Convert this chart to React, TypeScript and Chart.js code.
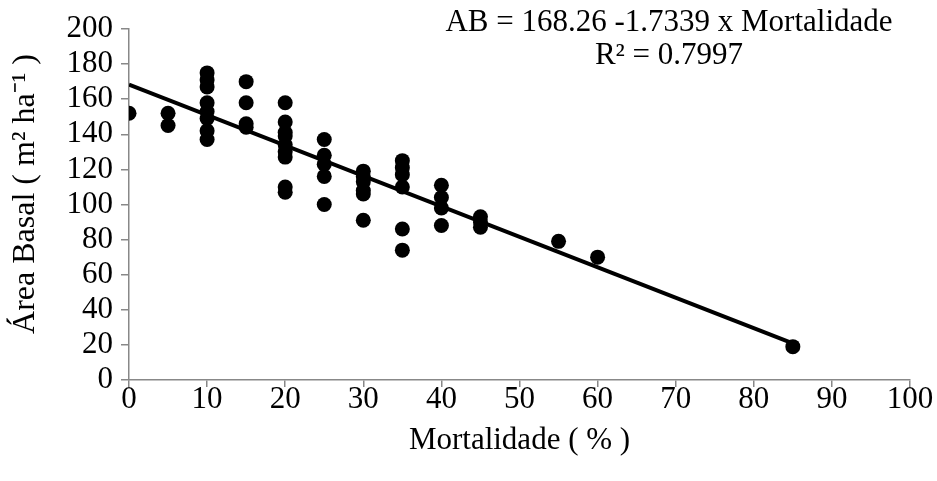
import { useEffect, useRef } from "react";
import { Chart, registerables } from "chart.js";

Chart.register(...registerables);

// Observed data (Mortalidade %, Área Basal m² ha⁻¹)
const mortalidade = [
  0,
  5, 5,
  10, 10, 10, 10, 10, 10, 10, 10,
  15, 15, 15, 15,
  20, 20, 20, 20, 20, 20, 20, 20, 20,
  25, 25, 25, 25, 25,
  30, 30, 30, 30, 30, 30,
  35, 35, 35, 35, 35, 35,
  40, 40, 40, 40,
  45, 45, 45,
  55,
  60,
  85,
];
const areaBasal = [
  152,
  152, 145,
  175, 171, 167, 158, 153, 149, 142, 137,
  170, 158, 146, 144,
  158, 147, 141, 139, 134, 130, 127, 110, 107,
  137, 128, 123, 116, 100,
  119, 116, 113, 108, 106, 91,
  125, 121, 117, 110, 86, 74,
  111, 104, 98, 88,
  93, 90, 87,
  79,
  70,
  19,
];

// Regression
const intercept = 168.26;
const slope = -1.7339;
const r2 = 0.7997;

const xTickValues = [0, 10, 20, 30, 40, 50, 60, 70, 80, 90, 100];
const yTickValues = [0, 20, 40, 60, 80, 100, 120, 140, 160, 180, 200];

const equationLines = [
  `AB = ${intercept} ${slope} x Mortalidade`,
  `R² = ${r2}`,
];
const xTitle = "Mortalidade ( % )";
const yTitle = "Área Basal ( m² ha⁻¹ )";

const FONT = "'Liberation Serif', 'Times New Roman', serif";
const FS = 31;

export default function App() {
  const ref = useRef<HTMLCanvasElement | null>(null);

  useEffect(() => {
    document.body.style.margin = "0";
    const canvas = ref.current;
    if (!canvas) return;

    const points = mortalidade.map((x, i) => ({ x, y: areaBasal[i] }));
    const xMin = Math.min(...mortalidade);
    const xMax = Math.max(...mortalidade);
    const fit = [
      { x: xMin, y: intercept + slope * xMin },
      { x: xMax, y: intercept + slope * xMax },
    ];

    const textPlugin = {
      id: "extraText",
      afterDraw(chart: any) {
        const ctx = chart.ctx;
        ctx.save();
        ctx.fillStyle = "#000";
        ctx.font = `${FS}px ${FONT}`;
        ctx.textAlign = "center";
        ctx.textBaseline = "middle";
        const cx = 669;
        ctx.fillText(equationLines[0], cx, 23);
        ctx.fillText(equationLines[1], cx, 56);
        // y-axis title
        ctx.font = `32px ${FONT}`;
        ctx.translate(26, 194);
        ctx.rotate(-Math.PI / 2);
        ctx.fillText(yTitle, 0, 0);
        ctx.restore();
      },
    };

    const chart = new Chart(canvas, {
      type: "scatter",
      data: {
        datasets: [
          {
            type: "line",
            data: fit,
            borderColor: "#000",
            borderWidth: 4,
            pointRadius: 0,
            fill: false,
            order: 2,
          } as any,
          {
            data: points,
            backgroundColor: "#000",
            borderColor: "#000",
            borderWidth: 0,
            pointRadius: 7.5,
            pointHoverRadius: 7.5,
            order: 1,
          },
        ],
      },
      options: {
        animation: false,
        responsive: false,
        devicePixelRatio: 1,
        layout: { padding: { top: 29, right: 27, left: 0, bottom: 0 } },
        plugins: {
          legend: { display: false },
          tooltip: { enabled: false },
        },
        scales: {
          x: {
            type: "linear",
            min: 0,
            max: 100,
            afterBuildTicks: (s: any) => {
              s.ticks = xTickValues.map((v) => ({ value: v }));
            },
            afterFit: (s: any) => {
              s.height = 101;
            },
            grid: {
              drawOnChartArea: false,
              drawTicks: true,
              tickLength: 7,
              color: "#888",
              lineWidth: 1.5,
            },
            border: { color: "#888", width: 1.5 },
            ticks: {
              color: "#000",
              padding: -6,
              autoSkip: false,
              maxRotation: 0,
              font: { family: FONT, size: FS },
            },
            title: {
              display: true,
              text: xTitle,
              color: "#000",
              font: { family: FONT, size: FS },
              padding: { top: 0, bottom: 22 },
            },
          },
          y: {
            type: "linear",
            min: 0,
            max: 200,
            afterBuildTicks: (s: any) => {
              s.ticks = yTickValues.map((v) => ({ value: v }));
            },
            afterFit: (s: any) => {
              s.width = 129;
            },
            grid: {
              drawOnChartArea: false,
              drawTicks: true,
              tickLength: 8,
              color: "#888",
              lineWidth: 1.5,
            },
            border: { color: "#888", width: 1.5 },
            ticks: {
              color: "#000",
              padding: 8,
              autoSkip: false,
              font: { family: FONT, size: FS },
            },
            title: { display: false },
          },
        },
      },
      plugins: [textPlugin],
    });

    return () => chart.destroy();
  }, []);

  return <canvas ref={ref} width={937} height={481} style={{ display: "block" }} />;
}
